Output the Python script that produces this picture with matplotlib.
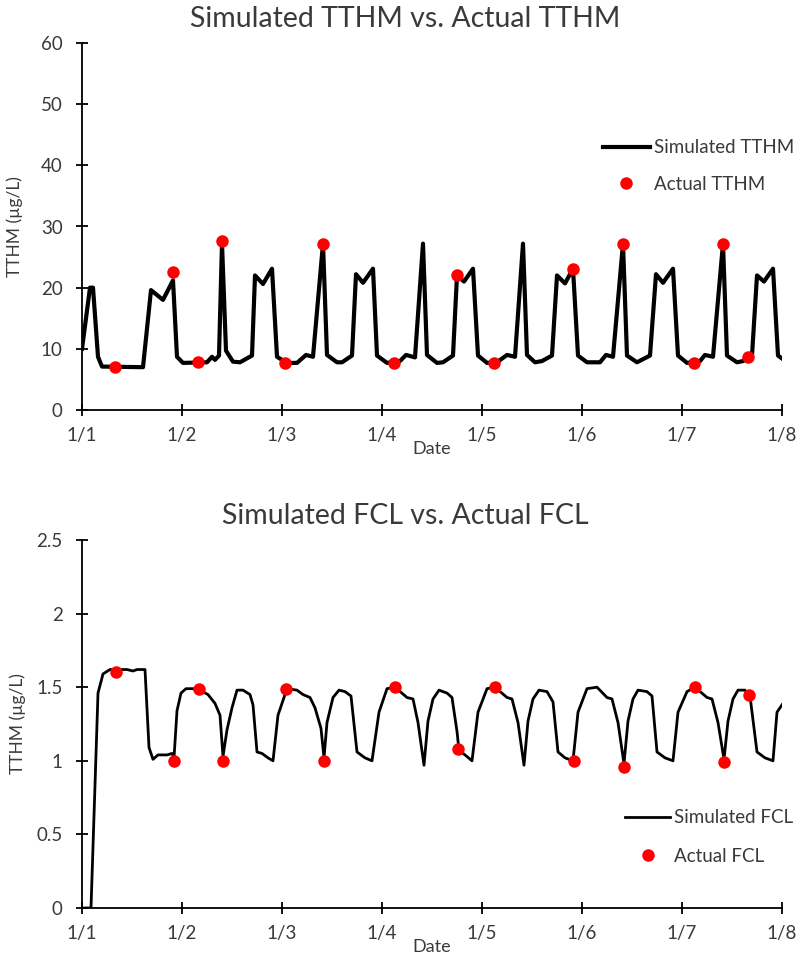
import numpy as np
import matplotlib
matplotlib.use("Agg")
import matplotlib.pyplot as plt

# time in days after 1/1 00:00
sim_tthm_t = [0.00, 0.08, 0.11, 0.16, 0.20, 0.61, 0.69, 0.81, 0.91, 0.95,
              1.01, 1.25, 1.30, 1.33, 1.37, 1.40, 1.44, 1.51, 1.58, 1.70, 1.73, 1.81, 1.90, 1.95,
              2.05, 2.15, 2.24, 2.31, 2.41, 2.45, 2.55, 2.60, 2.70, 2.74, 2.81, 2.91, 2.95,
              3.05, 3.18, 3.24, 3.33, 3.41, 3.45, 3.55, 3.61, 3.71, 3.75, 3.82, 3.91, 3.96,
              4.05, 4.15, 4.25, 4.33, 4.41, 4.45, 4.53, 4.60, 4.70, 4.75, 4.83, 4.91, 4.96,
              5.05, 5.18, 5.24, 5.31, 5.41, 5.45, 5.55, 5.68, 5.74, 5.81, 5.91, 5.96,
              6.05, 6.18, 6.23, 6.31, 6.41, 6.45, 6.55, 6.61, 6.70, 6.75, 6.82, 6.91, 6.96, 7.01]
sim_tthm_v = [10.0, 20.0, 20.0, 8.7, 7.1, 7.0, 19.6, 18.0, 21.2, 8.7,
              7.7, 7.8, 8.7, 8.2, 8.9, 27.2, 9.7, 7.9, 7.8, 8.9, 22.0, 20.6, 23.1, 8.7,
              7.7, 7.7, 9.0, 8.7, 27.2, 9.0, 7.8, 7.8, 8.9, 22.2, 20.8, 23.1, 8.9,
              7.7, 8.0, 9.0, 8.6, 27.2, 9.0, 7.7, 7.8, 8.9, 22.0, 21.0, 23.1, 8.9,
              7.7, 7.8, 9.0, 8.7, 27.2, 9.0, 7.8, 8.0, 8.9, 22.0, 20.7, 23.1, 8.9,
              7.8, 7.8, 9.0, 8.7, 27.2, 8.9, 7.8, 8.9, 22.2, 20.8, 23.1, 8.9,
              7.7, 8.0, 9.0, 8.7, 27.2, 8.9, 7.8, 8.0, 8.9, 22.0, 21.0, 23.1, 8.9, 8.3]

act_tthm_t = [0.33, 0.91, 1.16, 1.40, 2.03, 2.41, 3.12, 3.75, 4.12, 4.91, 5.41, 6.12, 6.41, 6.66]
act_tthm_v = [7.0, 22.5, 7.8, 27.7, 7.7, 27.2, 7.7, 22.0, 7.7, 23.0, 27.2, 7.7, 27.2, 8.6]

sim_fcl_t = [0.00, 0.09, 0.16, 0.21, 0.28, 0.34, 0.45, 0.51, 0.55, 0.63, 0.67, 0.71, 0.76, 0.85, 0.90, 0.92, 0.95, 0.99,
             1.04, 1.11, 1.18, 1.26, 1.33, 1.38, 1.41, 1.45, 1.50, 1.55, 1.61, 1.68, 1.71, 1.75, 1.80, 1.86, 1.91, 1.96, 2.00,
             2.05, 2.15, 2.21, 2.28, 2.33, 2.39, 2.42, 2.45, 2.51, 2.57, 2.63, 2.69, 2.75, 2.83, 2.90, 2.97,
             3.05, 3.13, 3.25, 3.31, 3.36, 3.42, 3.46, 3.51, 3.57, 3.65, 3.70, 3.75, 3.77, 3.83, 3.90, 3.96,
             4.05, 4.13, 4.25, 4.30, 4.36, 4.42, 4.46, 4.51, 4.57, 4.65, 4.71, 4.76, 4.83, 4.91, 4.96,
             5.05, 5.15, 5.25, 5.30, 5.36, 5.42, 5.46, 5.51, 5.56, 5.65, 5.70, 5.75, 5.83, 5.91, 5.96,
             6.05, 6.13, 6.25, 6.30, 6.36, 6.42, 6.46, 6.51, 6.56, 6.63, 6.68, 6.75, 6.83, 6.91, 6.95, 7.01]
sim_fcl_v = [0.0, 0.0, 1.46, 1.59, 1.62, 1.62, 1.62, 1.61, 1.62, 1.62, 1.09, 1.01, 1.04, 1.04, 1.05, 1.02, 1.34, 1.46,
             1.49, 1.49, 1.48, 1.45, 1.39, 1.31, 1.03, 1.21, 1.36, 1.48, 1.48, 1.45, 1.38, 1.06, 1.05, 1.02, 1.00, 1.31, 1.39,
             1.49, 1.48, 1.45, 1.43, 1.36, 1.22, 1.02, 1.26, 1.43, 1.48, 1.47, 1.44, 1.06, 1.02, 1.00, 1.33,
             1.49, 1.50, 1.43, 1.42, 1.26, 0.97, 1.27, 1.42, 1.48, 1.46, 1.43, 1.20, 1.07, 1.04, 1.00, 1.33,
             1.49, 1.50, 1.43, 1.42, 1.26, 0.97, 1.27, 1.42, 1.48, 1.47, 1.40, 1.06, 1.02, 1.00, 1.33,
             1.49, 1.50, 1.43, 1.42, 1.26, 0.98, 1.27, 1.42, 1.48, 1.47, 1.44, 1.06, 1.02, 1.00, 1.33,
             1.47, 1.50, 1.43, 1.42, 1.26, 1.01, 1.27, 1.42, 1.48, 1.48, 1.44, 1.06, 1.02, 1.00, 1.33, 1.39]

act_fcl_t = [0.34, 0.92, 1.17, 1.41, 2.04, 2.42, 3.13, 3.76, 4.13, 4.92, 5.42, 6.13, 6.42, 6.67]
act_fcl_v = [1.60, 1.00, 1.49, 1.00, 1.49, 1.00, 1.50, 1.08, 1.50, 1.00, 0.96, 1.50, 0.99, 1.45]

date_labels = ['1/1', '1/2', '1/3', '1/4', '1/5', '1/6', '1/7', '1/8']

TXT = '#3a3a3a'
plt.rcParams['font.family'] = ['Lato', 'DejaVu Sans']
plt.rcParams['font.size'] = 13

W, H = 798, 966
fig = plt.figure(figsize=(W / 100, H / 100), dpi=100)


def px_axes(left, top, right, bottom):
    return fig.add_axes([left / W, 1 - bottom / H, (right - left) / W, (bottom - top) / H])


def style(ax, title, ymax, ystep, ylabelpad):
    ax.set_xlim(0, 7)
    ax.set_ylim(0, ymax)
    ax.set_xticks(range(8))
    ax.set_xticklabels(date_labels)
    ax.set_yticks(np.arange(0, ymax + ystep / 2, ystep))
    for s in ['top', 'right']:
        ax.spines[s].set_visible(False)
    for s in ['left', 'bottom']:
        ax.spines[s].set_linewidth(1.3)
    ax.tick_params(direction='inout', length=8, width=1.3, labelsize=13.5,
                   labelcolor=TXT)
    ax.tick_params(axis='x', pad=8)
    ax.tick_params(axis='y', pad=10)
    # chart title is centred on the whole figure, not on the plot area
    ax.set_title(title, fontsize=20.5, color=TXT, pad=11.5, x=0.462)
    ax.set_xlabel('Date', fontsize=13, color=TXT, labelpad=-2)
    ax.set_ylabel('TTHM (\u00b5g/L)', fontsize=12.5, color=TXT, labelpad=ylabelpad)


ax1 = px_axes(82, 43, 782, 410)
ax1.plot(sim_tthm_t, sim_tthm_v, color='black', lw=3, label='Simulated TTHM', zorder=2)
ax1.plot(act_tthm_t, act_tthm_v, 'o', color='#ff0000', ms=9, mec='none',
         label='Actual TTHM', zorder=3)
style(ax1, 'Simulated TTHM vs. Actual TTHM', 60, 10, 13)
ax1.legend(loc='center left', bbox_to_anchor=(603 / W, 1 - 166 / H),
           bbox_transform=fig.transFigure, frameon=False, borderpad=0,
           borderaxespad=0, handlelength=2.5, handletextpad=0.2,
           labelspacing=1.05, fontsize=13.5, labelcolor=TXT)

ax2 = px_axes(82, 540, 782, 908)
ax2.plot(sim_fcl_t, sim_fcl_v, color='black', lw=2, label='Simulated FCL', zorder=2)
ax2.plot(act_fcl_t, act_fcl_v, 'o', color='#ff0000', ms=9, mec='none',
         label='Actual FCL', zorder=3)
style(ax2, 'Simulated FCL vs. Actual FCL', 2.5, 0.5, 7)
ax2.set_yticklabels(['0', '0.5', '1', '1.5', '2', '2.5'])
ax2.legend(loc='center left', bbox_to_anchor=(625 / W, 1 - 837 / H),
           bbox_transform=fig.transFigure, frameon=False, borderpad=0,
           borderaxespad=0, handlelength=2.4, handletextpad=0.2,
           labelspacing=1.15, fontsize=13.5, labelcolor=TXT)

fig.savefig('out.png', dpi=100)
